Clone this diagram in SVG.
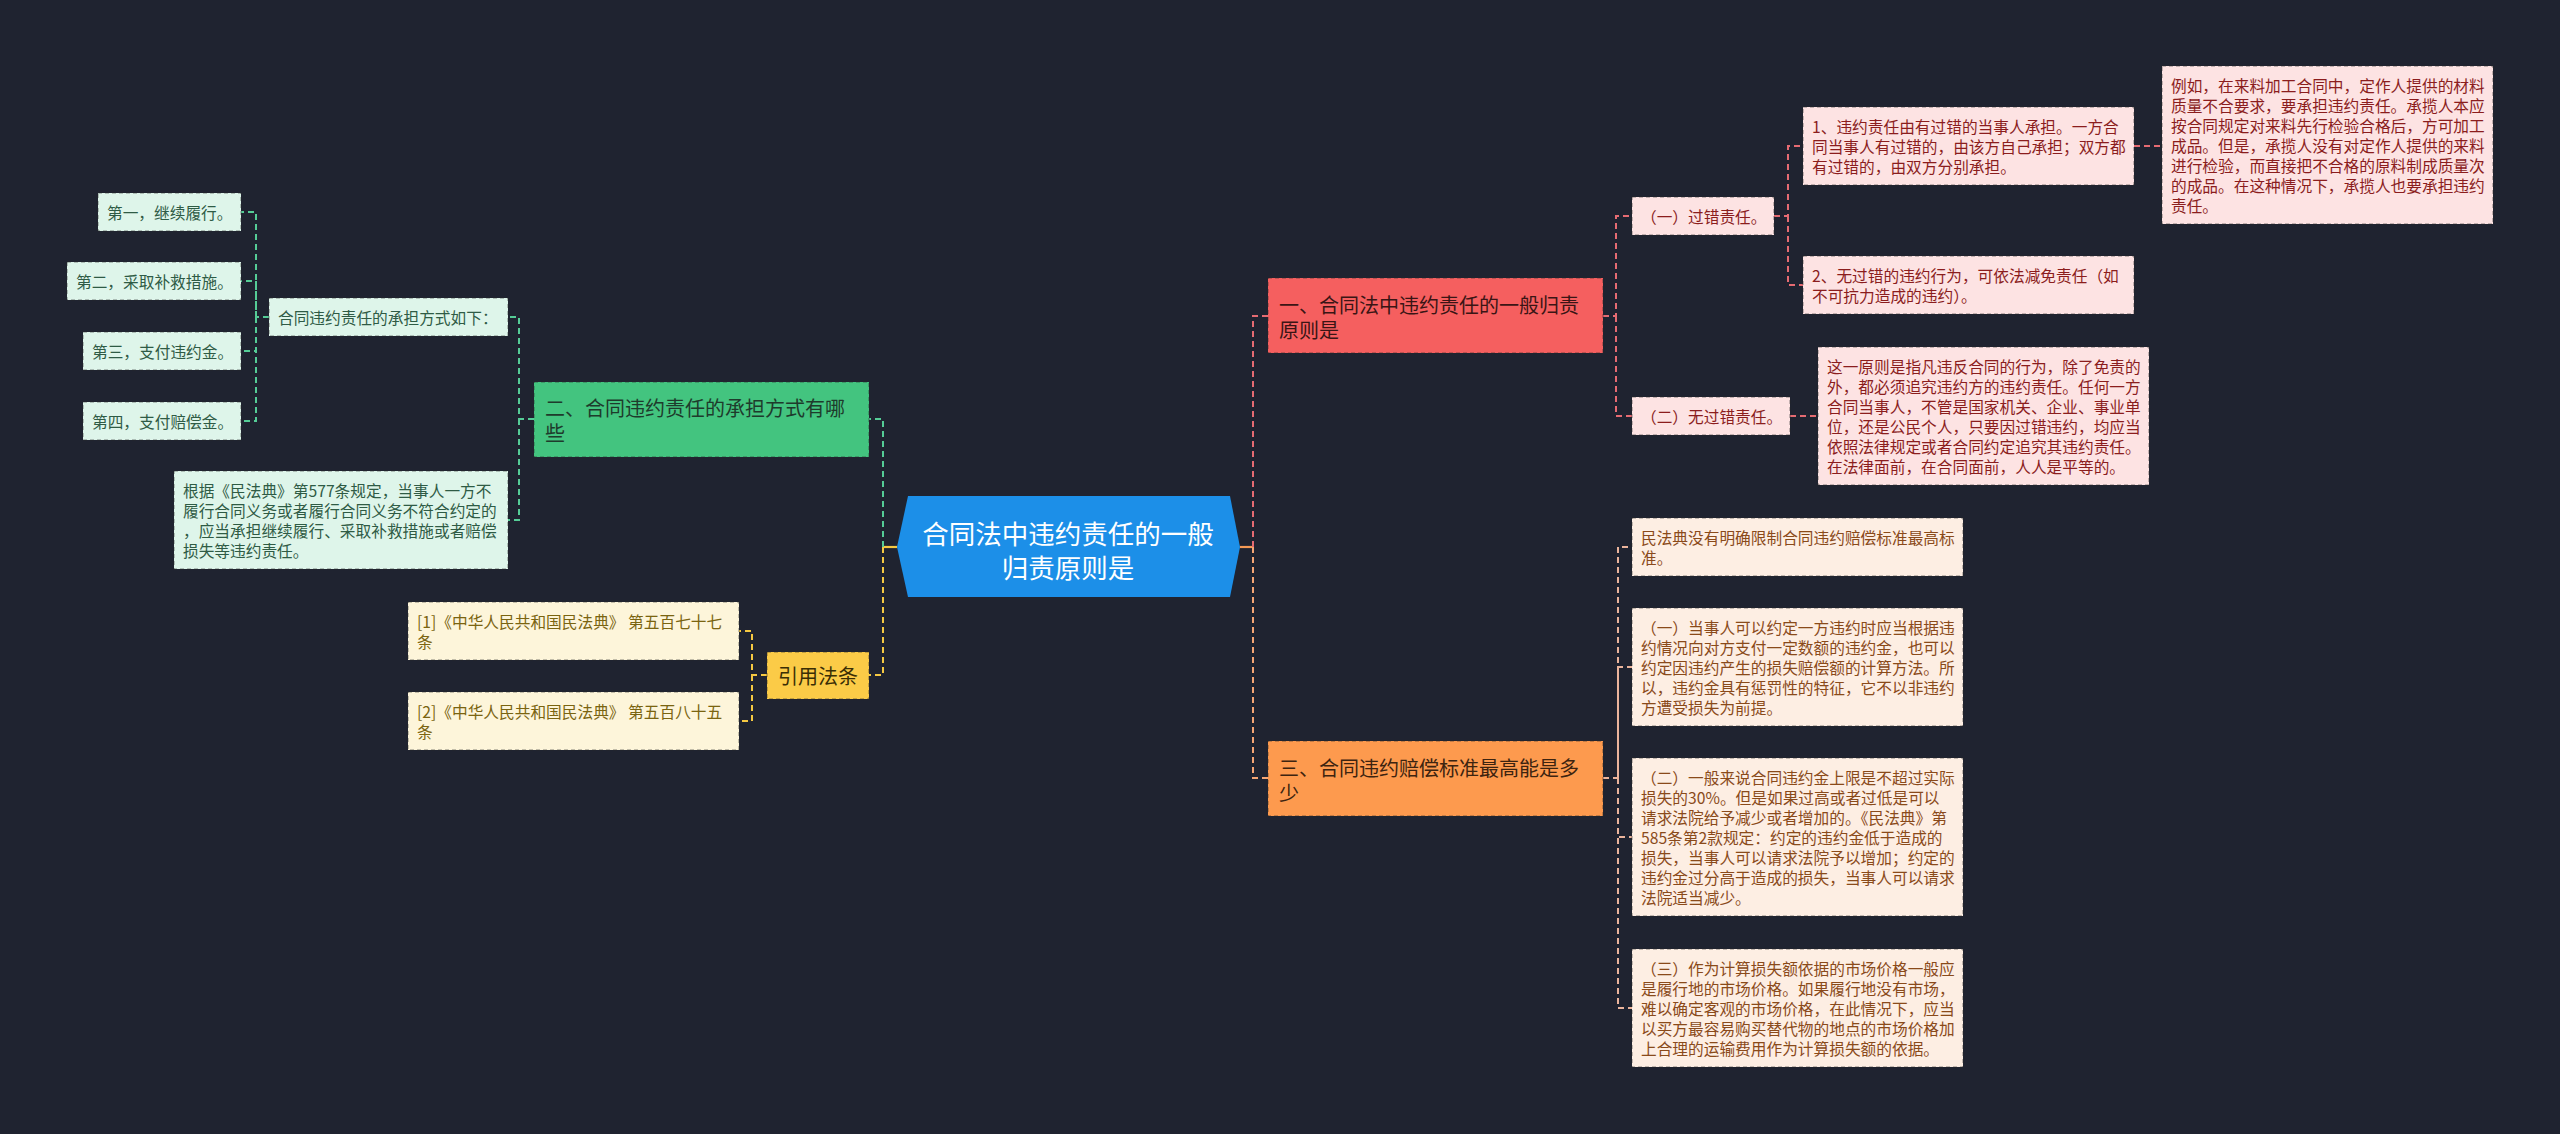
<svg xmlns="http://www.w3.org/2000/svg" width="2560" height="1134" viewBox="0 0 2560 1134">
<style>
text{font-family:"Noto Sans CJK SC","Noto Sans",sans-serif;dominant-baseline:central}
.leaf{font-size:15.7px}
.main{font-size:20px}
.bd{stroke:#2a2a2a;stroke-opacity:.55;stroke-width:1;stroke-dasharray:4 3}
.gf{fill:#def5ea}.gt{fill:#2f5b45}
.yf{fill:#fdf5da}.yt{fill:#7a6410}
.rf{fill:#fde3e3}.rt{fill:#8b1d1d}
.of{fill:#fdeee3}.ot{fill:#8a4a1a}
.c{fill:none;stroke-width:2;stroke-dasharray:6 4}
.cg{stroke:#55cc96}.cy{stroke:#f5c842}.cr{stroke:#e56b72}.co{stroke:#f5a674}.cop{stroke:#ebb49c}
</style>
<rect width="2560" height="1134" fill="#1f2330"/>
<g id="connectors">
<path d="M897,547H883" fill="none" stroke="#f5c842" stroke-width="2.2"/>
<path class="c cg" d="M883,547V419H869"/>
<path class="c cy" d="M883,547V675H869"/>
<path class="c cg" d="M534,419H519V317H508"/>
<path class="c cg" d="M519,419V520H508"/>
<path class="c cg" d="M269,317H256V212H241"/>
<path class="c cg" d="M256,317V281H241"/>
<path class="c cg" d="M256,317V351H241"/>
<path class="c cg" d="M256,317V421H241"/>
<path class="c cy" d="M767,675H752V631H739"/>
<path class="c cy" d="M752,675V721H739"/>
<path d="M1240,547H1253" fill="none" stroke="#f59a56" stroke-width="2.2"/>
<path class="c cr" d="M1253,547V316H1268"/>
<path class="c cr" d="M1603,316H1616V216H1632"/>
<path class="c cr" d="M1616,316V416H1632"/>
<path class="c cr" d="M1774,216H1788V146H1803"/>
<path class="c cr" d="M1788,216V285H1803"/>
<path class="c cr" d="M2134,146H2162"/>
<path class="c cr" d="M1790,416H1818"/>
<path class="c co" d="M1253,547V778H1268"/>
<path class="c cop" d="M1603,778H1618V547H1632"/>
<path class="c cop" d="M1618,778V667H1632"/>
<path class="c cop" d="M1618,778V837H1632"/>
<path class="c cop" d="M1618,778V1008H1632"/>
</g>
<g id="root">
<polygon points="897,547 908,496 1230,496 1240,547 1230,597 908,597" fill="#1c8fe8"/>
<text x="1068" y="532" font-size="26.5" fill="#ffffff" text-anchor="middle">合同法中违约责任的一般</text>
<text x="1068" y="566" font-size="26.5" fill="#ffffff" text-anchor="middle">归责原则是</text>
</g>
<g id="n2">
<rect class="bd" x="534" y="382" width="335" height="75" fill="#43c47f"/>
<text class="main" x="545" y="407" fill="#1e3b2c">二、合同违约责任的承担方式有哪</text>
<text class="main" x="545" y="432" fill="#1e3b2c">些</text>
</g>
<g id="g1"><rect class="bd gf" x="98" y="193" width="143" height="38"/><text class="leaf gt" x="107" y="212">第一，继续履行。</text></g>
<g id="g2"><rect class="bd gf" x="67" y="262" width="174" height="38"/><text class="leaf gt" x="76" y="281">第二，采取补救措施。</text></g>
<g id="g3"><rect class="bd gf" x="83" y="332" width="158" height="38"/><text class="leaf gt" x="92" y="351">第三，支付违约金。</text></g>
<g id="g4"><rect class="bd gf" x="83" y="402" width="158" height="38"/><text class="leaf gt" x="92" y="421">第四，支付赔偿金。</text></g>
<g id="g5"><rect class="bd gf" x="269" y="298" width="239" height="38"/><text class="leaf gt" x="278" y="317">合同违约责任的承担方式如下：</text></g>
<g id="g6"><rect class="bd gf" x="174" y="471" width="334" height="98"/>
<text class="leaf gt" x="183" y="490">根据《民法典》第577条规定，当事人一方不</text>
<text class="leaf gt" x="183" y="510">履行合同义务或者履行合同义务不符合约定的</text>
<text class="leaf gt" x="183" y="530">，应当承担继续履行、采取补救措施或者赔偿</text>
<text class="leaf gt" x="183" y="550">损失等违约责任。</text></g>
<g id="n3">
<rect class="bd" x="767" y="652" width="102" height="47" fill="#fbcb47"/>
<text class="main" x="818" y="675" fill="#3a2e05" text-anchor="middle">引用法条</text>
</g>
<g id="y1"><rect class="bd yf" x="408" y="602" width="331" height="58"/>
<text class="leaf yt" x="417" y="621">[1]《中华人民共和国民法典》 第五百七十七</text>
<text class="leaf yt" x="417" y="641">条</text></g>
<g id="y2"><rect class="bd yf" x="408" y="692" width="331" height="58"/>
<text class="leaf yt" x="417" y="711">[2]《中华人民共和国民法典》 第五百八十五</text>
<text class="leaf yt" x="417" y="731">条</text></g>
<g id="n1">
<rect class="bd" x="1268" y="278" width="335" height="75" fill="#f55f5f"/>
<text class="main" x="1279" y="304" fill="#3a1515">一、合同法中违约责任的一般归责</text>
<text class="main" x="1279" y="329" fill="#3a1515">原则是</text>
</g>
<g id="r1"><rect class="bd rf" x="1632" y="197" width="142" height="38"/><text class="leaf rt" x="1641" y="216">（一）过错责任。</text></g>
<g id="r2"><rect class="bd rf" x="1632" y="397" width="158" height="38"/><text class="leaf rt" x="1641" y="416">（二）无过错责任。</text></g>
<g id="r3"><rect class="bd rf" x="1803" y="107" width="331" height="78"/>
<text class="leaf rt" x="1812" y="126">1、违约责任由有过错的当事人承担。一方合</text>
<text class="leaf rt" x="1812" y="146">同当事人有过错的，由该方自己承担；双方都</text>
<text class="leaf rt" x="1812" y="166">有过错的，由双方分别承担。</text></g>
<g id="r4"><rect class="bd rf" x="1803" y="256" width="331" height="58"/>
<text class="leaf rt" x="1812" y="275">2、无过错的违约行为，可依法减免责任（如</text>
<text class="leaf rt" x="1812" y="295">不可抗力造成的违约）。</text></g>
<g id="r5"><rect class="bd rf" x="2162" y="66" width="331" height="158"/>
<text class="leaf rt" x="2171" y="85">例如，在来料加工合同中，定作人提供的材料</text>
<text class="leaf rt" x="2171" y="105">质量不合要求，要承担违约责任。承揽人本应</text>
<text class="leaf rt" x="2171" y="125">按合同规定对来料先行检验合格后，方可加工</text>
<text class="leaf rt" x="2171" y="145">成品。但是，承揽人没有对定作人提供的来料</text>
<text class="leaf rt" x="2171" y="165">进行检验，而直接把不合格的原料制成质量次</text>
<text class="leaf rt" x="2171" y="185">的成品。在这种情况下，承揽人也要承担违约</text>
<text class="leaf rt" x="2171" y="205">责任。</text></g>
<g id="r6"><rect class="bd rf" x="1818" y="347" width="331" height="138"/>
<text class="leaf rt" x="1827" y="366">这一原则是指凡违反合同的行为，除了免责的</text>
<text class="leaf rt" x="1827" y="386">外，都必须追究违约方的违约责任。任何一方</text>
<text class="leaf rt" x="1827" y="406">合同当事人，不管是国家机关、企业、事业单</text>
<text class="leaf rt" x="1827" y="426">位，还是公民个人，只要因过错违约，均应当</text>
<text class="leaf rt" x="1827" y="446">依照法律规定或者合同约定追究其违约责任。</text>
<text class="leaf rt" x="1827" y="466">在法律面前，在合同面前，人人是平等的。</text></g>
<g id="n4">
<rect class="bd" x="1268" y="741" width="335" height="75" fill="#fd9a4e"/>
<text class="main" x="1279" y="767" fill="#3d2410">三、合同违约赔偿标准最高能是多</text>
<text class="main" x="1279" y="792" fill="#3d2410">少</text>
</g>
<g id="o1"><rect class="bd of" x="1632" y="518" width="331" height="58"/>
<text class="leaf ot" x="1641" y="537">民法典没有明确限制合同违约赔偿标准最高标</text>
<text class="leaf ot" x="1641" y="557">准。</text></g>
<g id="o2"><rect class="bd of" x="1632" y="608" width="331" height="118"/>
<text class="leaf ot" x="1641" y="627">（一）当事人可以约定一方违约时应当根据违</text>
<text class="leaf ot" x="1641" y="647">约情况向对方支付一定数额的违约金，也可以</text>
<text class="leaf ot" x="1641" y="667">约定因违约产生的损失赔偿额的计算方法。所</text>
<text class="leaf ot" x="1641" y="687">以，违约金具有惩罚性的特征，它不以非违约</text>
<text class="leaf ot" x="1641" y="707">方遭受损失为前提。</text></g>
<g id="o3"><rect class="bd of" x="1632" y="758" width="331" height="158"/>
<text class="leaf ot" x="1641" y="777">（二）一般来说合同违约金上限是不超过实际</text>
<text class="leaf ot" x="1641" y="797">损失的30%。但是如果过高或者过低是可以</text>
<text class="leaf ot" x="1641" y="817">请求法院给予减少或者增加的。《民法典》第</text>
<text class="leaf ot" x="1641" y="837">585条第2款规定：约定的违约金低于造成的</text>
<text class="leaf ot" x="1641" y="857">损失，当事人可以请求法院予以增加；约定的</text>
<text class="leaf ot" x="1641" y="877">违约金过分高于造成的损失，当事人可以请求</text>
<text class="leaf ot" x="1641" y="897">法院适当减少。</text></g>
<g id="o4"><rect class="bd of" x="1632" y="949" width="331" height="118"/>
<text class="leaf ot" x="1641" y="968">（三）作为计算损失额依据的市场价格一般应</text>
<text class="leaf ot" x="1641" y="988">是履行地的市场价格。如果履行地没有市场，</text>
<text class="leaf ot" x="1641" y="1008">难以确定客观的市场价格，在此情况下，应当</text>
<text class="leaf ot" x="1641" y="1028">以买方最容易购买替代物的地点的市场价格加</text>
<text class="leaf ot" x="1641" y="1048">上合理的运输费用作为计算损失额的依据。</text></g>
</svg>
